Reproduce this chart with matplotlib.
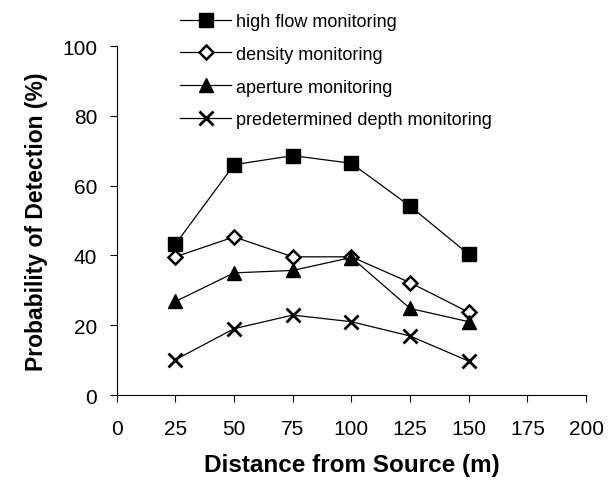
import matplotlib.pyplot as plt

plt.rcParams['font.family'] = ['Liberation Sans', 'DejaVu Sans']

# distance from source (m)
distance = [25, 50, 75, 100, 125, 150]

high_flow = [43.2, 66.0, 68.6, 66.4, 54.1, 40.3]
density = [39.6, 45.3, 39.6, 39.6, 32.2, 23.7]
aperture = [26.8, 35.0, 35.7, 39.4, 24.8, 21.0]
predetermined = [10.1, 19.0, 22.9, 21.0, 16.9, 9.7]

labels = ["high flow monitoring", "density monitoring",
          "aperture monitoring", "predetermined depth monitoring"]

fig = plt.figure(figsize=(6.08, 4.85), dpi=100)
ax = fig.add_axes([0.192, 0.1835, 0.772, 0.7195])

ax.plot(distance, high_flow, color='black', lw=0.9, marker='s', ms=10,
        mfc='black', label=labels[0])
ax.plot(distance, density, color='black', lw=0.9, marker='D', ms=7,
        mfc='white', mew=1.8, label=labels[1])
ax.plot(distance, aperture, color='black', lw=0.9, marker='^', ms=10,
        mfc='black', label=labels[2])
ax.plot(distance, predetermined, color='black', lw=0.9, marker='x', ms=10,
        mew=2, label=labels[3])

ax.set_xlim(0, 200)
ax.set_ylim(0, 100)
ax.set_xticks(range(0, 201, 25))
ax.set_yticks(range(0, 101, 20))
ax.spines['top'].set_visible(False)
ax.spines['right'].set_visible(False)
ax.tick_params(labelsize=15, length=5, width=0.8)
ax.tick_params(axis='x', pad=12)
ax.tick_params(axis='y', pad=9)

ax.set_xlabel("Distance from Source (m)", fontsize=17.5, fontweight='bold', labelpad=11)
ax.set_ylabel("Probability of Detection (%)", fontsize=16.5, fontweight='bold', labelpad=10)

ax.legend(loc='upper left', bbox_to_anchor=(0.27, 1.005), bbox_transform=fig.transFigure,
          frameon=False, fontsize=13, numpoints=1, handlelength=2.8,
          labelspacing=0.88, handletextpad=0.3)

fig.savefig("out.png", dpi=100)
